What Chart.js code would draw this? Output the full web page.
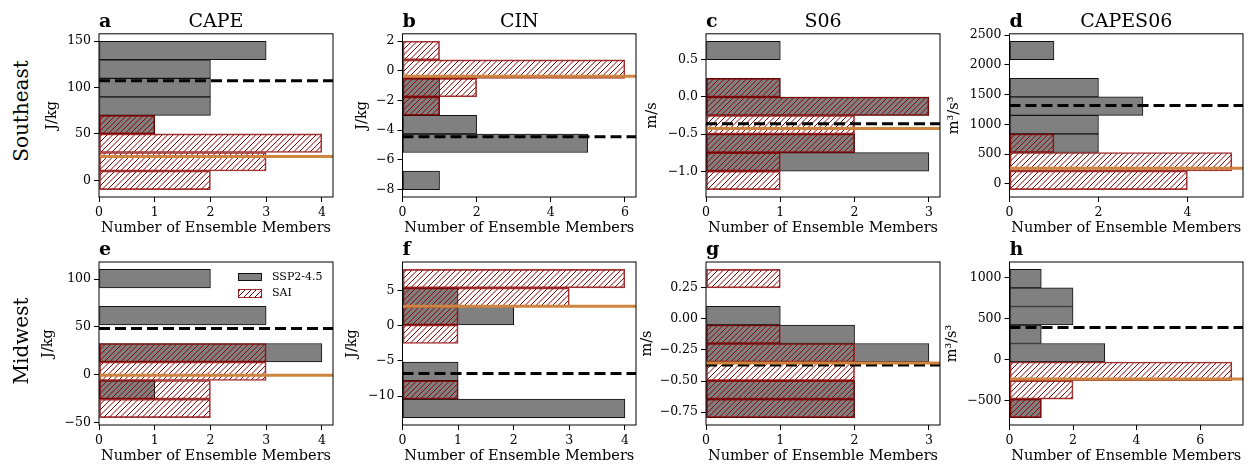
<!DOCTYPE html>
<html>
<head>
<meta charset="utf-8">
<script src="https://cdn.jsdelivr.net/npm/chart.js"></script>
<style>
  body { margin: 0; background: #fff; }
  #wrap { position: relative; width: 1251px; height: 468px; overflow: hidden; font-family: 'DejaVu Serif', serif; color: #000; }
  #wrap canvas { position: absolute; }
  .row-label { position: absolute; font-size: 20px; white-space: nowrap; transform: translate(-50%, -50%) rotate(-90deg); }
  .legend { position: absolute; font-size: 11px; }
  .legend .item { height: 16.5px; line-height: 16.5px; display: flex; align-items: center; }
  .legend .sw { display: inline-block; box-sizing: border-box; width: 24px; height: 8.5px; margin-right: 10px; }
  .legend .ssp { background: #808080; border: 1px solid #111; }
  .legend .sai { border: 1px solid rgba(139,0,0,0.8);
    background: repeating-linear-gradient(135deg, #8b0000 0 1px, transparent 1px 3.9px); }
</style>
</head>
<body>
<div id="wrap"></div>
<script>
// bin edges (bottom -> top) and number of ensemble members in each bin
// Southeast
const capeSE_edges = [-10, 10, 30, 50, 70, 90, 110, 130, 150];
const capeSE_ssp   = [0, 0, 0, 1, 2, 2, 2, 3];
const capeSE_sai   = [2, 3, 4, 1, 0, 0, 0, 0];

const cinSE_edges = [-8.02, -6.77, -5.52, -4.26, -3.01, -1.76, -0.51, 0.75, 2.0];
const cinSE_ssp   = [1, 0, 5, 2, 1, 1, 0, 0];
const cinSE_sai   = [0, 0, 0, 0, 1, 2, 6, 1];

const s06SE_edges = [-1.245, -0.996, -0.747, -0.498, -0.249, 0.0, 0.25, 0.5, 0.75];
const s06SE_ssp   = [0, 3, 2, 0, 3, 1, 0, 1];
const s06SE_sai   = [1, 1, 2, 2, 3, 1, 0, 0];

const capes06SE_edges = [-95, 217, 529, 840, 1152, 1464, 1775, 2087, 2399];
const capes06SE_ssp   = [0, 0, 2, 2, 3, 2, 0, 1];
const capes06SE_sai   = [4, 5, 1, 0, 0, 0, 0, 0];

// Midwest
const capeMW_edges = [-44.9, -25.5, -6.1, 13.3, 32.6, 52.0, 71.4, 90.8, 110.1];
const capeMW_ssp   = [0, 1, 0, 4, 0, 3, 0, 2];
const capeMW_sai   = [2, 2, 3, 3, 0, 0, 0, 0];

const cinMW_edges = [-13.04, -10.41, -7.78, -5.15, -2.52, 0.11, 2.74, 5.37, 8.0];
const cinMW_ssp   = [4, 1, 1, 0, 0, 2, 1, 0];
const cinMW_sai   = [0, 1, 0, 0, 1, 1, 3, 4];

const s06MW_edges = [-0.794, -0.645, -0.496, -0.347, -0.198, -0.049, 0.1, 0.249, 0.398];
const s06MW_ssp   = [2, 2, 0, 3, 2, 1, 0, 0];
const s06MW_sai   = [2, 2, 2, 2, 1, 0, 0, 1];

const capes06MW_edges = [-702, -477, -251, -26, 200, 425, 651, 876, 1102];
const capes06MW_ssp   = [1, 0, 0, 3, 1, 2, 2, 1];
const capes06MW_sai   = [1, 2, 7, 0, 0, 0, 0, 0];

// ensemble means (dashed black = SSP2-4.5, orange = SAI), panels a..h
const sspMeans = [107.5, -4.45, -0.36, 1318, 48.2, -6.77, -0.37, 395];
const saiMeans = [25.6, -0.36, -0.424, 265, -0.7, 2.76, -0.355, -232];

const panelTitles = ['CAPE', 'CIN', 'S06', 'CAPES06'];
const panelLetters = ['a', 'b', 'c', 'd', 'e', 'f', 'g', 'h'];
const units = ['J/kg', 'J/kg', 'm/s', 'm\u00B3/s\u00B3'];
const rowLabels = ['Southeast', 'Midwest'];
const xTickStep = [1, 2, 1, 2, 1, 1, 1, 2];
const yTickStep = [50, 2, 0.5, 500, 50, 5, 0.25, 500];
const yTickDecimals = [0, 0, 1, 0, 0, 0, 2, 0];

const edgeSets = [capeSE_edges, cinSE_edges, s06SE_edges, capes06SE_edges,
                  capeMW_edges, cinMW_edges, s06MW_edges, capes06MW_edges];
const sspSets = [capeSE_ssp, cinSE_ssp, s06SE_ssp, capes06SE_ssp,
                 capeMW_ssp, cinMW_ssp, s06MW_ssp, capes06MW_ssp];
const saiSets = [capeSE_sai, cinSE_sai, s06SE_sai, capes06SE_sai,
                 capeMW_sai, cinMW_sai, s06MW_sai, capes06MW_sai];

// layout
const FONT = 'DejaVu Serif';
const plotLefts = [99, 402.5, 706, 1009.5];
const plotW = 233.5;
const rowTops = [0, 228];
const canvasH = 237;
const yTitleX = [53, 363, 653, 955, 49, 352.5, 647.5, 952.5];
const labelSize = 14.5;

const wrap = document.getElementById('wrap');

function hatchPattern() {
    const c = document.createElement('canvas');
    c.width = 11; c.height = 11;
    const g = c.getContext('2d');
    g.strokeStyle = '#8b0000';
    g.lineWidth = 1;
    g.beginPath();
    [0, 5.5, 11, 16.5, 22].forEach(k => {
        g.moveTo(k + 1, -1);
        g.lineTo(k - 12, 12);
    });
    g.stroke();
    return g.createPattern(c, 'repeat');
}
const hatch = hatchPattern();

const framePlugin = {
    id: 'frame',
    afterDatasetsDraw(chart) {
        const { ctx, chartArea: a } = chart;
        ctx.save();
        ctx.strokeStyle = '#000';
        ctx.lineWidth = 1;
        ctx.strokeRect(a.left, a.top, a.right - a.left, a.bottom - a.top);
        ctx.restore();
    }
};

const letterPlugin = {
    id: 'panelLetter',
    afterDraw(chart, args, opts) {
        const { ctx, chartArea } = chart;
        ctx.save();
        ctx.font = 'bold 19px "' + FONT + '"';
        ctx.fillStyle = '#000';
        ctx.textAlign = 'left';
        ctx.textBaseline = 'middle';
        ctx.fillText(opts.text, chartArea.left, chartArea.top - 11.5);
        ctx.restore();
    }
};

function fmt(v, dec) {
    return Number(v).toFixed(dec).replace('-', '\u2212');
}

// multiples of step that fall inside [min, max]
function niceTicks(min, max, step) {
    const out = [];
    for (let k = Math.ceil(min / step); k * step <= max + 1e-9; k++) {
        out.push({ value: +(k * step).toFixed(6) });
    }
    return out;
}

function makePanel(i) {
    const col = i % 4, row = Math.floor(i / 4);
    const edges = edgeSets[i];
    const centers = edges.slice(1).map((e, k) => (e + edges[k]) / 2);
    const lo = edges[0], hi = edges[edges.length - 1];
    const pad = 0.05 * (hi - lo);
    const xMax = 1.05 * Math.max(...sspSets[i], ...saiSets[i]);

    const left = Math.round(yTitleX[i] - labelSize * 0.6);
    const plotLeft = plotLefts[col];
    const width = Math.round(plotLeft + plotW + 8 - left);

    const canvas = document.createElement('canvas');
    canvas.width = width;
    canvas.height = canvasH;
    canvas.style.left = left + 'px';
    canvas.style.top = rowTops[row] + 'px';
    wrap.appendChild(canvas);

    const barCommon = {
        indexAxis: 'y',
        grouped: false,
        categoryPercentage: 1,
        barPercentage: 1,
        borderWidth: 1,
        borderSkipped: false
    };

    new Chart(canvas, {
        type: 'bar',
        data: {
            datasets: [
                Object.assign({
                    label: 'SSP2-4.5',
                    data: centers.map((c, k) => ({ x: sspSets[i][k], y: c })),
                    backgroundColor: '#808080',
                    borderColor: '#111',
                    order: 3
                }, barCommon),
                Object.assign({
                    label: 'SAI',
                    data: centers.map((c, k) => ({ x: saiSets[i][k], y: c })),
                    backgroundColor: hatch,
                    borderColor: 'rgba(139,0,0,0.8)',
                    order: 2
                }, barCommon),
                {
                    type: 'line',
                    indexAxis: 'x',
                    label: 'SSP2-4.5 mean',
                    data: [{ x: 0, y: sspMeans[i] }, { x: xMax, y: sspMeans[i] }],
                    borderColor: '#000',
                    borderWidth: 3,
                    borderDash: [11, 5],
                    pointRadius: 0,
                    order: 1
                },
                {
                    type: 'line',
                    indexAxis: 'x',
                    label: 'SAI mean',
                    data: [{ x: 0, y: saiMeans[i] }, { x: xMax, y: saiMeans[i] }],
                    borderColor: '#cd853f',
                    borderWidth: 3,
                    pointRadius: 0,
                    order: 0
                }
            ]
        },
        options: {
            responsive: false,
            animation: false,
            devicePixelRatio: 1,
            indexAxis: 'y',
            layout: { padding: { top: row === 0 ? 0 : 34, right: 8, left: 0, bottom: 0 } },
            scales: {
                x: {
                    type: 'linear',
                    min: 0,
                    max: xMax,
                    grid: { display: true, drawOnChartArea: false, drawTicks: true, tickLength: 5, color: '#000' },
                    border: { display: false },
                    ticks: {
                        color: '#000',
                        padding: 3,
                        maxRotation: 0,
                        font: { family: FONT, size: 12.5 },
                        callback: v => fmt(v, 0)
                    },
                    afterBuildTicks: s => { s.ticks = niceTicks(0, xMax, xTickStep[i]); },
                    title: {
                        display: true,
                        text: 'Number of Ensemble Members',
                        color: '#000',
                        padding: 0,
                        font: { family: FONT, size: labelSize }
                    },
                    afterFit: s => { s.height = canvasH - 197; }
                },
                y: {
                    type: 'linear',
                    min: lo - pad,
                    max: hi + pad,
                    offset: false,
                    grid: { display: true, offset: false, drawOnChartArea: false, drawTicks: true, tickLength: 5, color: '#000' },
                    border: { display: false },
                    ticks: {
                        color: '#000',
                        padding: 3,
                        font: { family: FONT, size: 12.5 },
                        callback: v => fmt(v, yTickDecimals[i])
                    },
                    afterBuildTicks: s => { s.ticks = niceTicks(lo - pad, hi + pad, yTickStep[i]); },
                    title: {
                        display: true,
                        text: units[col],
                        color: '#000',
                        padding: 0,
                        font: { family: FONT, size: labelSize }
                    },
                    afterFit: s => { s.width = plotLeft - left; }
                }
            },
            plugins: {
                legend: { display: false },
                tooltip: { enabled: false },
                title: {
                    display: row === 0,
                    text: panelTitles[col],
                    fullSize: false,
                    color: '#000',
                    padding: { top: 11, bottom: 0 },
                    font: { family: FONT, size: 19, weight: 'normal' }
                },
                panelLetter: { text: panelLetters[i] }
            }
        },
        plugins: [framePlugin, letterPlugin]
    });
}

for (let i = 0; i < 8; i++) makePanel(i);

// row labels
[[rowLabels[0], 111], [rowLabels[1], 341]].forEach(([txt, cy]) => {
    const d = document.createElement('div');
    d.className = 'row-label';
    d.textContent = txt;
    d.style.left = '20.5px';
    d.style.top = cy + 'px';
    wrap.appendChild(d);
});

// legend inside panel e
const lg = document.createElement('div');
lg.className = 'legend';
lg.style.left = '238px';
lg.style.top = '268.7px';
lg.innerHTML = '<div class="item"><span class="sw ssp"></span>SSP2-4.5</div>' +
               '<div class="item"><span class="sw sai"></span>SAI</div>';
wrap.appendChild(lg);
</script>
</body>
</html>
